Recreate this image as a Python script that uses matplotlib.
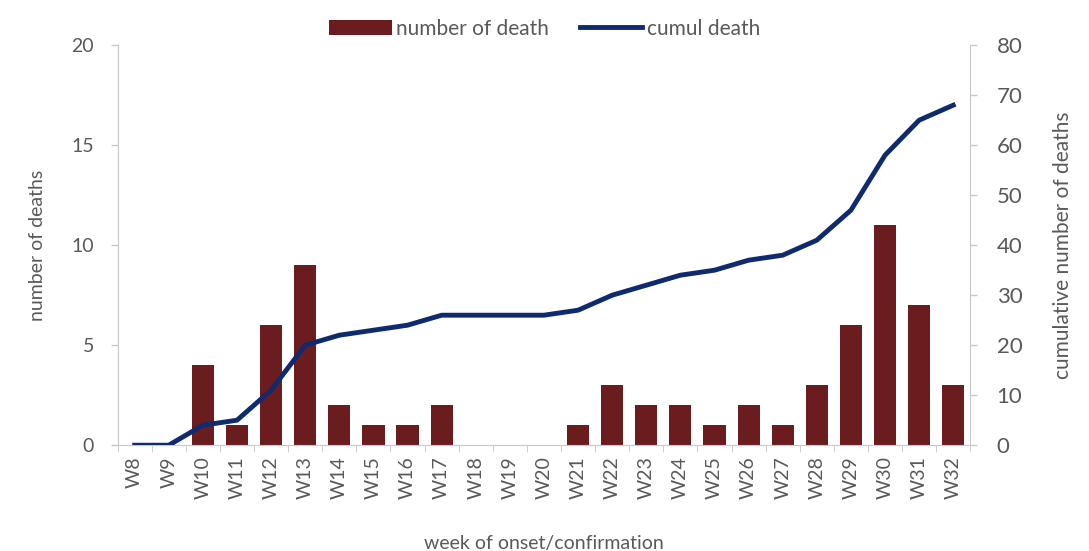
import numpy as np
import matplotlib.pyplot as plt

plt.rcParams['font.family'] = ['Lato', 'DejaVu Sans']

weeks = ["W8", "W9", "W10", "W11", "W12", "W13", "W14", "W15", "W16", "W17", "W18", "W19", "W20",
         "W21", "W22", "W23", "W24", "W25", "W26", "W27", "W28", "W29", "W30", "W31", "W32"]
deaths = [0, 0, 4, 1, 6, 9, 2, 1, 1, 2, 0, 0, 0, 1, 3, 2, 2, 1, 2, 1, 3, 6, 11, 7, 3]
cumul = [0, 0, 4, 5, 11, 20, 22, 23, 24, 26, 26, 26, 26, 27, 30, 32, 34, 35, 37, 38, 41, 47, 58, 65, 68]

txt = "#595959"
grey = "#c8c8c8"
bar_col = "#6b1c1f"
line_col = "#0f2a6e"

fig = plt.figure(figsize=(10.89, 5.51), dpi=100)
ax = fig.add_axes([0.108, 0.192, 0.783, 0.726])
ax2 = ax.twinx()

x = np.arange(len(weeks))
b = ax.bar(x, deaths, width=0.65, color=bar_col, label="number of death", zorder=2)
l, = ax2.plot(x, cumul, color=line_col, lw=3.5, solid_joinstyle="round", label="cumul death", zorder=3)

ax.set_xlim(-0.5, len(weeks) - 0.5)
ax.set_ylim(0, 20)
ax2.set_ylim(0, 80)
ax.set_yticks([0, 5, 10, 15, 20])
ax2.set_yticks(range(0, 81, 10))
ax.set_xticks(x)
ax.set_xticklabels(weeks, rotation=90)
ax.set_xticks(np.arange(-0.5, len(weeks), 1), minor=True)

for a in (ax, ax2):
    for s in a.spines.values():
        s.set_visible(False)
    a.tick_params(colors=grey, labelcolor=txt, labelsize=14, length=5, width=1)
ax.spines["left"].set_visible(True)
ax.spines["left"].set_color(grey)
ax.spines["bottom"].set_visible(True)
ax.spines["bottom"].set_color(grey)
ax2.spines["right"].set_visible(True)
ax2.spines["right"].set_color(grey)
ax.tick_params(axis="x", which="major", labelsize=14, length=0, pad=8)
ax.tick_params(axis="x", which="minor", length=5, color=grey)
ax.tick_params(axis="y", pad=12)
ax2.tick_params(axis="y", pad=14, labelsize=16)

ax.set_xlabel("week of onset/confirmation", color=txt, fontsize=14, labelpad=26)
ax.set_ylabel("number of deaths", color=txt, fontsize=14, labelpad=18)
ax2.set_ylabel("cumulative number of deaths", color=txt, fontsize=15, labelpad=22)

fig.legend([b, l], ["number of death", "cumul death"], loc="upper center", bbox_to_anchor=(0.5, 1.0),
           ncol=2, frameon=False, fontsize=15, labelcolor=txt, handlelength=3, columnspacing=1.5,
           handletextpad=0.2)

fig.savefig("out.png", dpi=100)
